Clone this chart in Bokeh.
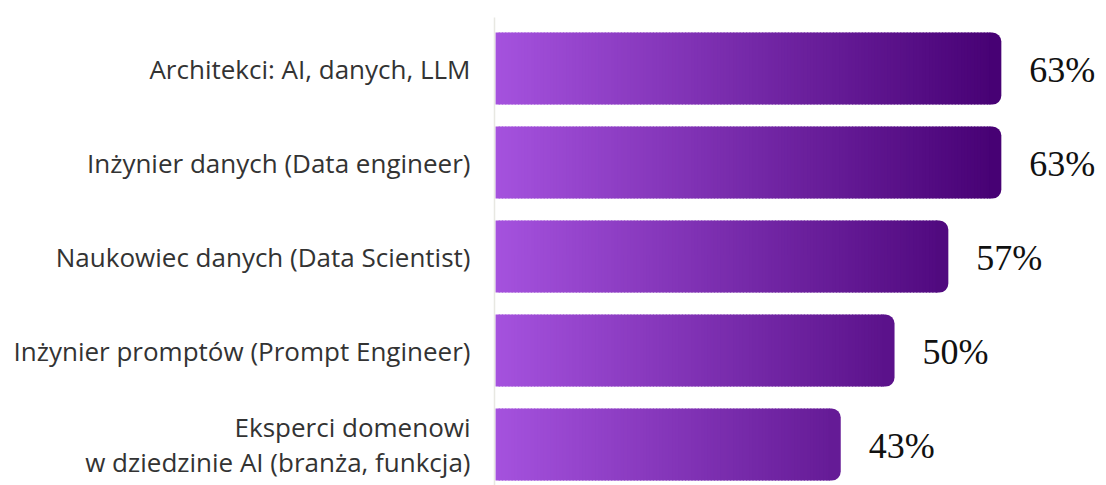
from bokeh.plotting import figure
from bokeh.models import ColumnDataSource, Range1d, FixedTicker
from bokeh.core.properties import value
from bokeh.embed import file_html
from bokeh.resources import INLINE

categories = [
    "Architekci: AI, danych, LLM",
    "Inżynier danych (Data engineer)",
    "Naukowiec danych (Data Scientist)",
    "Inżynier promptów (Prompt Engineer)",
    "Eksperci domenowi\nw dziedzinie AI (branża, funkcja)",
]
values = [63.0, 63.0, 56.4, 49.7, 43.0]
labels = ["63%", "63%", "57%", "50%", "43%"]

# gradient colours (light -> dark)
c_start = (165, 82, 222)
c_end = (70, 0, 115)

def grad(t):
    t = max(0.0, min(1.0, t))
    r, g, b = (int(round(a + (b_ - a) * t)) for a, b_ in zip(c_start, c_end))
    return "#%02x%02x%02x" % (r, g, b)

vmax = max(values)
cap = 1.5
step = 0.4
left, right, ys, cols = [], [], [], []
cap_left, cap_right, cap_y, cap_col = [], [], [], []
for i, v in enumerate(values):
    x = 0.0
    while x < v - cap:
        x2 = min(x + step, v - cap)
        left.append(x)
        right.append(min(x2 + 0.15, v - cap + 0.15))
        ys.append(i)
        cols.append(grad((x + x2) / 2 / vmax))
        x = x2
    cap_left.append(v - cap)
    cap_right.append(v)
    cap_y.append(i)
    cap_col.append(grad((v - cap / 2) / vmax))

p = figure(width=1100, height=485, output_backend="svg", toolbar_location=None,
           x_range=Range1d(-0.12, 75.35), y_range=Range1d(4.436, -0.543),
           min_border_left=494, min_border_right=0, min_border_top=17, min_border_bottom=0)
p.outline_line_color = None
p.grid.visible = False
p.xaxis.visible = False

yax = p.yaxis[0]
yax.ticker = FixedTicker(ticks=list(range(len(categories))))
yax.major_label_overrides = {i: c for i, c in enumerate(categories)}
yax.major_label_text_font = "Open Sans"
yax.major_label_text_font_size = "26px"
yax.major_label_text_color = "#333333"
yax.major_label_text_line_height = 0.95
yax.major_label_standoff = 18
yax.major_tick_line_color = None
yax.minor_tick_line_color = None
yax.axis_line_color = "#e8e8e2"
yax.axis_line_width = 1.5

src = ColumnDataSource(dict(left=left, right=right, y=ys, color=cols))
p.hbar(y="y", left="left", right="right", height=0.766, fill_color="color",
       line_color=None, source=src)

csrc = ColumnDataSource(dict(left=cap_left, right=cap_right, y=cap_y, color=cap_col))
p.hbar(y="y", left="left", right="right", height=0.766, fill_color="color",
       line_color=None, border_radius=(0, 9, 9, 0), source=csrc)

tsrc = ColumnDataSource(dict(x=values, y=list(range(len(values))), text=labels))
p.text(x="x", y="y", text="text", source=tsrc, x_offset=28, y_offset=1,
       text_font=value("Liberation Serif"), text_font_size="36px",
       text_color="#111111", text_baseline="middle", text_align="left")

open("out.html", "w").write(file_html(p, INLINE))
